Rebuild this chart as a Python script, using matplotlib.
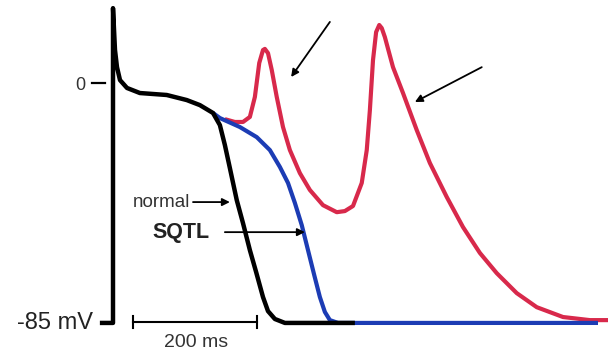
import matplotlib
matplotlib.use('Agg')
import matplotlib.pyplot as plt

# action potential traces, time in ms, voltage in mV
normal_t = [-21, 0, 0, 3.2, 6.4, 11.2, 22.4, 43, 86, 118, 139, 160, 171, 179, 187,
            198, 208, 219, 229, 240, 248, 259, 275, 387]
normal_v = [-85, -85, 27, 12.1, 6.0, 1.4, -1.4, -3.2, -3.9, -5.7, -7.5, -10.3, -14.6,
            -21.7, -29.9, -41.3, -49.5, -59.1, -66.9, -75.8, -80.8, -83.6, -85, -85]

sqtl_t = [160, 171, 203, 230, 251, 267, 280, 291, 302, 312, 322, 331, 339, 347, 360, 776]
sqtl_v = [-10.3, -12.1, -15.3, -18.9, -23.5, -29.5, -35.2, -42.3, -50.2, -59.1, -68,
          -75.8, -81.1, -84, -85, -85]

ead_t = [179, 195, 208, 219, 227, 234, 240, 243, 248, 254, 262, 272, 283, 299, 315,
         336, 358, 371, 384, 398, 406, 411, 416, 421, 426, 430, 435, 448, 464, 486,
         507, 534, 560, 587, 614, 646, 678, 720, 763, 792]
ead_v = [-12.5, -13.5, -13.5, -11.7, -4.6, 7.5, 12.1, 12.5, 11, 5, -4.6, -15.3, -23.5,
         -31.7, -37.7, -43.1, -45.6, -45.2, -43.4, -35.2, -23.5, -9.3, 8.5, 18.5, 21,
         19.9, 16.7, 6.0, -3.2, -16.4, -28.1, -40.2, -50.9, -60.1, -67.3, -74.4, -79.4,
         -82.9, -84, -84]

RED = '#d8294b'
BLUE = '#1c3cb4'

fig = plt.figure(figsize=(6.08, 3.53), dpi=100)
ax = fig.add_axes([0, 0, 1, 1])
ax.set_xlim(-180.8, 792)
ax.set_ylim(-95.7, 29.9)
ax.axis('off')

ax.plot(ead_t, ead_v, color=RED, lw=3.0, solid_joinstyle='round', solid_capstyle='butt')
ax.plot(sqtl_t, sqtl_v, color=BLUE, lw=3.0, solid_joinstyle='round', solid_capstyle='butt')
ax.plot(normal_t, normal_v, color='black', lw=3.2, solid_joinstyle='round',
        solid_capstyle='butt')

font = 'Liberation Sans'

# voltage marks
ax.text(-45, -0.6, '0', fontsize=13, family=font, ha='right', va='center', color='#333333')
ax.plot([-33.6, -12.8], [0.3, 0.3], color='black', lw=1.6)
ax.text(-32, -85, '-85 mV', fontsize=17, family=font, ha='right', va='center',
        color='#222222')

# time scale bar
ax.plot([32, 230], [-84.7, -84.7], color='black', lw=1.5)
ax.plot([32, 32], [-82.6, -86.8], color='black', lw=1.5)
ax.plot([230, 230], [-82.6, -86.8], color='black', lw=1.5)
ax.text(133, -92, '200 ms', fontsize=14, family=font, ha='center', va='center',
        color='#333333')

arrow = dict(arrowstyle='-|>', lw=1.3, color='black', mutation_scale=11,
             shrinkA=0, shrinkB=0)
ax.text(123, -42, 'normal', fontsize=13.5, family=font, ha='right', va='center',
        color='#333333')
ax.annotate('', xy=(187, -42), xytext=(128, -42), arrowprops=arrow)
ax.text(109, -53, 'SQTL', fontsize=15.5, family=font, weight='bold', ha='center',
        va='center', color='#222222')
ax.annotate('', xy=(307, -52.7), xytext=(179, -52.7), arrowprops=arrow)

ax.annotate('', xy=(285, 2.5), xytext=(347, 22.1), arrowprops=arrow)
ax.annotate('', xy=(483, -6.4), xytext=(590, 6.0), arrowprops=arrow)

fig.savefig('out.png', dpi=100)
